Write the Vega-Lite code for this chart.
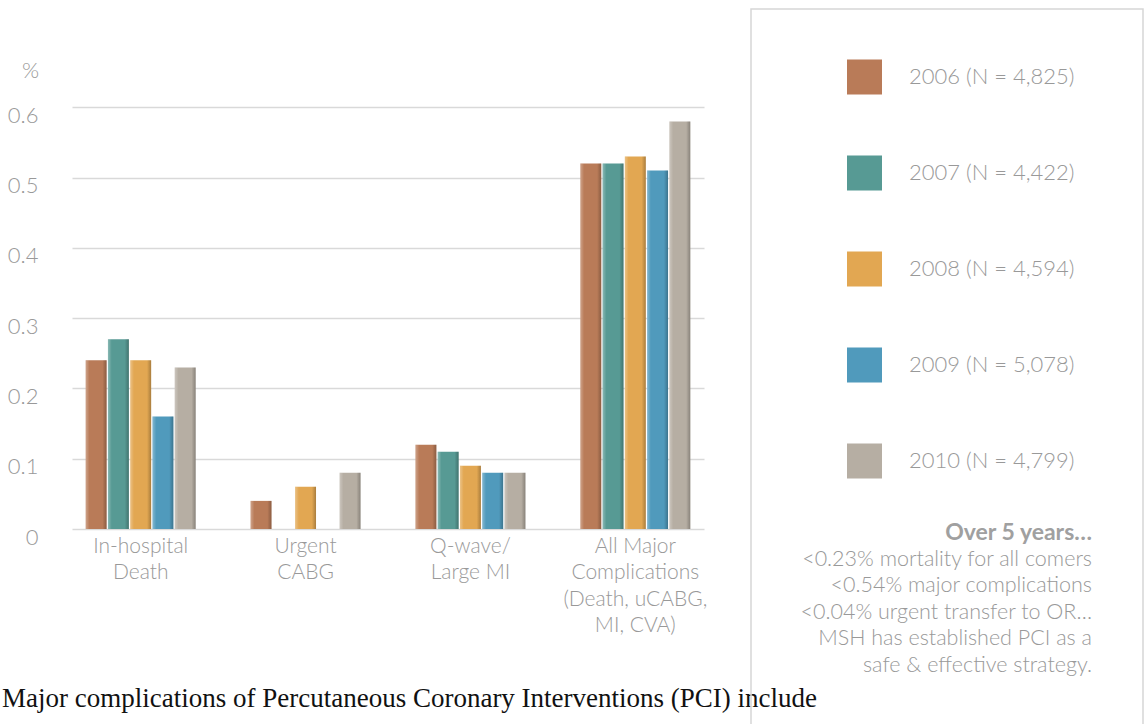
{
  "$schema": "https://vega.github.io/schema/vega-lite/v6.json",
  "padding": {"left": 2, "top": 8, "right": 0, "bottom": 0},
  "background": "white",
  "bounds": "flush",
  "spacing": 47,
  "config": {
    "font": "Lato",
    "view": {"stroke": null},
    "legend": {"orient": "none"}
  },
  "datasets": {
    "pci": [
      {"complication": "In-hospital|Death", "series": "2006 (N = 4,825)", "percent": 0.24},
      {"complication": "In-hospital|Death", "series": "2007 (N = 4,422)", "percent": 0.27},
      {"complication": "In-hospital|Death", "series": "2008 (N = 4,594)", "percent": 0.24},
      {"complication": "In-hospital|Death", "series": "2009 (N = 5,078)", "percent": 0.16},
      {"complication": "In-hospital|Death", "series": "2010 (N = 4,799)", "percent": 0.23},
      {"complication": "Urgent|CABG", "series": "2006 (N = 4,825)", "percent": 0.04},
      {"complication": "Urgent|CABG", "series": "2007 (N = 4,422)", "percent": 0},
      {"complication": "Urgent|CABG", "series": "2008 (N = 4,594)", "percent": 0.06},
      {"complication": "Urgent|CABG", "series": "2009 (N = 5,078)", "percent": 0},
      {"complication": "Urgent|CABG", "series": "2010 (N = 4,799)", "percent": 0.08},
      {"complication": "Q-wave/|Large MI", "series": "2006 (N = 4,825)", "percent": 0.12},
      {"complication": "Q-wave/|Large MI", "series": "2007 (N = 4,422)", "percent": 0.11},
      {"complication": "Q-wave/|Large MI", "series": "2008 (N = 4,594)", "percent": 0.09},
      {"complication": "Q-wave/|Large MI", "series": "2009 (N = 5,078)", "percent": 0.08},
      {"complication": "Q-wave/|Large MI", "series": "2010 (N = 4,799)", "percent": 0.08},
      {"complication": "All Major|Complications|(Death, uCABG,|MI, CVA)", "series": "2006 (N = 4,825)", "percent": 0.52},
      {"complication": "All Major|Complications|(Death, uCABG,|MI, CVA)", "series": "2007 (N = 4,422)", "percent": 0.52},
      {"complication": "All Major|Complications|(Death, uCABG,|MI, CVA)", "series": "2008 (N = 4,594)", "percent": 0.53},
      {"complication": "All Major|Complications|(Death, uCABG,|MI, CVA)", "series": "2009 (N = 5,078)", "percent": 0.51},
      {"complication": "All Major|Complications|(Death, uCABG,|MI, CVA)", "series": "2010 (N = 4,799)", "percent": 0.58}
    ],
    "note": [
      {"line": 0, "text": "Over 5 years…", "bold": true},
      {"line": 1, "text": "<0.23% mortality for all comers", "bold": false},
      {"line": 2, "text": "<0.54% major complications", "bold": false},
      {"line": 3, "text": "<0.04% urgent transfer to OR…", "bold": false},
      {"line": 4, "text": "MSH has established PCI as a", "bold": false},
      {"line": 5, "text": "safe & effective strategy.", "bold": false}
    ]
  },
  "hconcat": [
    {
      "width": 632,
      "height": 520,
      "data": {"name": "pci"},
      "title": {
        "text": "Major complications of Percutaneous Coronary Interventions (PCI) include",
        "orient": "bottom",
        "anchor": "start",
        "frame": "group",
        "font": "Liberation Serif",
        "fontSize": 27,
        "fontWeight": "normal",
        "color": "#111111",
        "dx": -70,
        "offset": 50
      },
      "encoding": {
        "x": {
          "field": "complication",
          "type": "nominal",
          "sort": null,
          "scale": {"paddingInner": 0.333, "paddingOuter": 0.083},
          "axis": {
            "title": null,
            "domain": false,
            "ticks": false,
            "labelAngle": 0,
            "labelExpr": "split(datum.label, '|')",
            "labelFontSize": 21,
            "labelFontWeight": 300,
            "labelColor": "#999999",
            "labelLineHeight": 26.5,
            "labelPadding": 6,
            "labelLimit": 300
          }
        },
        "xOffset": {
          "field": "series",
          "type": "nominal",
          "scale": {"paddingInner": 0.06, "paddingOuter": 0}
        },
        "y": {
          "field": "percent",
          "type": "quantitative",
          "scale": {"domain": [0, 0.74], "nice": false},
          "axis": {
            "title": "%",
            "titleAngle": 0,
            "titleX": -42,
            "titleY": 61.5,
            "titleAlign": "center",
            "titleBaseline": "middle",
            "titleFontSize": 22,
            "titleFontWeight": 300,
            "titleColor": "#999999",
            "values": [0, 0.1, 0.2, 0.3, 0.4, 0.5, 0.6],
            "format": "~g",
            "domain": false,
            "ticks": false,
            "grid": true,
            "gridColor": "#d9d9d9",
            "gridWidth": 1.3,
            "labelFontSize": 22,
            "labelFontWeight": 300,
            "labelColor": "#999999",
            "labelPadding": 34,
            "labelOffset": 8
          }
        }
      },
      "layer": [
        {
          "mark": {"type": "bar"},
          "encoding": {
            "color": {
              "field": "series",
              "type": "nominal",
              "scale": {
                "domain": ["2006 (N = 4,825)", "2007 (N = 4,422)", "2008 (N = 4,594)", "2009 (N = 5,078)", "2010 (N = 4,799)"],
                "range": ["#b97b58", "#579a94", "#e2a752", "#509abc", "#b6aea3"]
              },
              "legend": {
                "title": null,
                "orient": "none",
                "legendX": 775,
                "legendY": 50.5,
                "padding": 0,
                "symbolType": "square",
                "symbolSize": 1225,
                "symbolStrokeWidth": 0,
                "symbolOpacity": 1,
                "rowPadding": 61,
                "labelOffset": 27,
                "labelFontSize": 22,
                "labelFontWeight": 300,
                "labelColor": "#999999",
                "labelLimit": 300
              }
            }
          }
        },
        {
          "mark": {
            "type": "bar",
            "color": {
              "gradient": "linear",
              "x1": 0, "x2": 1, "y1": 0, "y2": 0,
              "stops": [
                {"offset": 0, "color": "rgba(255,255,255,0.3)"},
                {"offset": 0.18, "color": "rgba(255,255,255,0)"},
                {"offset": 0.8, "color": "rgba(0,0,0,0)"},
                {"offset": 1, "color": "rgba(0,0,0,0.25)"}
              ]
            }
          }
        }
      ]
    },
    {
      "width": 392,
      "height": 730,
      "view": {"stroke": "#d6d6d6", "strokeWidth": 1.5},
      "data": {"name": "note"},
      "encoding": {
        "y": {
          "field": "line",
          "type": "quantitative",
          "scale": {"domain": [-19.77, 7.77], "reverse": true, "nice": false, "zero": false},
          "axis": null
        },
        "x": {"value": 341},
        "text": {"field": "text"}
      },
      "layer": [
        {
          "transform": [{"filter": "datum.bold"}],
          "mark": {"type": "text", "align": "right", "baseline": "middle", "fontSize": 23, "fontWeight": "bold", "color": "#a0a0a0"}
        },
        {
          "transform": [{"filter": "!datum.bold"}],
          "mark": {"type": "text", "align": "right", "baseline": "middle", "fontSize": 21.5, "fontWeight": 300, "color": "#999999"}
        }
      ]
    }
  ]
}
